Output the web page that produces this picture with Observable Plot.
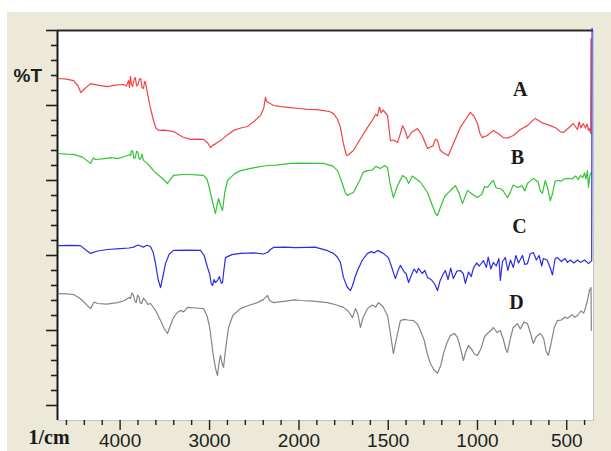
<!DOCTYPE html>
<html><head><meta charset="utf-8">
<script src="https://cdn.jsdelivr.net/npm/d3@7"></script>
<script src="https://cdn.jsdelivr.net/npm/@observablehq/plot@0.6"></script>
<style>
html,body{margin:0;padding:0;background:#fff;}
#wrap{position:relative;width:611px;height:451px;overflow:hidden;}
#bg{position:absolute;left:7px;top:12px;right:0;bottom:0;background:#ECE9D8;}
#chart{position:absolute;left:0;top:0;}
</style></head><body>
<div id="wrap"><div id="bg"></div><div id="chart"></div></div>
<script>
// Spectra: [wavenumber (1/cm), %T (arbitrary offset units)]
const spectrumA = [[4690,109],[4600,108.8],[4520,108.3],[4470,106.5],[4440,104.3],[4400,105.5],[4330,107.3],[4250,106.8],[4141,106.3],[4050,106.8],[3962,107],[3930,106.5],[3906,108.3],[3895,106],[3884,109.7],[3872,107],[3860,106.3],[3845,108.5],[3830,109.3],[3815,106.5],[3800,107],[3785,108.8],[3770,109],[3755,106],[3739,105.7],[3725,108],[3716,107.7],[3694,104],[3660,99],[3627,95],[3600,92.5],[3571,91.7],[3500,91.8],[3403,91.3],[3300,89.5],[3213,88.7],[3120,88.8],[3068,88.7],[3020,87.5],[2990,86],[2967,86.7],[2930,87.3],[2878,88.3],[2800,90.2],[2732,91.7],[2650,92.5],[2576,93],[2500,94.8],[2430,96.7],[2395,99],[2375,102.7],[2360,101.2],[2341,101],[2285,100],[2200,99.6],[2095,99.3],[2000,99],[1952,98.7],[1900,98.6],[1863,98.3],[1830,98],[1807,97.3],[1785,95.5],[1768,92.7],[1750,87],[1735,83.5],[1728,83.3],[1715,84],[1695,85],[1660,88.5],[1616,92.7],[1590,95],[1570,97],[1560,96.5],[1550,99.5],[1540,97.5],[1530,98.5],[1515,97.5],[1504,96.7],[1495,92],[1488,88.3],[1470,88.5],[1448,87.7],[1430,91],[1420,93.3],[1405,91.5],[1392,89],[1370,91],[1336,92.3],[1310,90],[1280,85.7],[1250,86.5],[1235,88.8],[1224,88.3],[1208,85],[1185,84],[1163,83.3],[1130,88],[1096,92.7],[1065,95.5],[1040,97.7],[1020,96.5],[1000,94],[985,90.5],[972,89.3],[945,90],[911,91.7],[880,90.5],[855,89.3],[830,89.2],[799,90],[760,92],[720,93.3],[695,94.8],[676,95.7],[640,94.3],[592,93.3],[560,92.5],[535,91.2],[519,91],[490,92.5],[463,94],[440,92],[430,94.5],[420,92.5],[408,94],[395,92.5],[385,93.8],[378,91.7],[372,92.3],[366,90.7],[364,122.3]];
const spectrumB = [[4690,84],[4600,83.8],[4520,83.7],[4420,82.8],[4331,80.7],[4300,82.5],[4275,82],[4200,82.2],[4100,82.6],[4029,82.3],[3950,83],[3900,83.6],[3884,83.3],[3872,85],[3860,84.7],[3845,82.4],[3830,82.7],[3815,84.8],[3800,84.3],[3785,82],[3770,82.3],[3755,83.8],[3739,81.7],[3700,80.8],[3660,79.5],[3627,78.3],[3580,77],[3520,75.5],[3470,74],[3440,75.3],[3403,76.7],[3300,77],[3213,77],[3120,76.8],[3068,76.7],[3030,75.5],[3010,73.5],[2989,70.7],[2960,67],[2934,64],[2915,67],[2900,69],[2880,67],[2855,65],[2830,71],[2799,75],[2720,77.3],[2654,78.3],[2500,79.3],[2352,80],[2250,80.1],[2095,80.7],[2000,80.8],[1900,80.7],[1863,80.7],[1840,80.3],[1810,79.8],[1784,78.3],[1760,74.5],[1740,70.8],[1728,70],[1710,70.6],[1695,71],[1660,75],[1640,77.8],[1616,78.3],[1590,78.5],[1570,79.7],[1544,79],[1520,80],[1504,79.3],[1490,74],[1471,69.3],[1450,73],[1420,76.7],[1400,75.8],[1386,74],[1365,76.5],[1347,75.7],[1320,74.5],[1280,71],[1255,67],[1235,64],[1224,63.3],[1205,66.5],[1185,69.5],[1168,70.7],[1145,72],[1124,73.3],[1105,71],[1084,67.3],[1070,69.5],[1056,71.7],[1030,70.5],[1000,69.3],[975,70.5],[960,73],[944,72.7],[925,74.2],[911,75],[895,72.5],[872,72.3],[855,71.5],[840,70],[832,69.3],[815,71.2],[800,73.5],[776,72.7],[750,73.2],[735,71.5],[720,74],[705,74.8],[687,75.7],[660,74.5],[648,71.5],[636,70.7],[628,73],[620,75],[605,72],[592,68.3],[580,70.5],[565,74.8],[552,75],[530,74.8],[515,75.5],[496,75.7],[470,75.5],[450,76.5],[435,75.3],[423,76.7],[410,76],[400,77.5],[392,75.5],[384,78.3],[378,72.7],[370,76.7],[362,77.7]];
const spectrumC = [[4690,53.3],[4550,53.4],[4443,53.3],[4390,52],[4331,50.7],[4250,51.5],[4141,52],[4000,52.3],[3900,52.5],[3850,52.8],[3800,53.5],[3740,52.8],[3700,53.4],[3660,53],[3630,51],[3604,47.3],[3575,42],[3548,39.3],[3525,42.5],[3493,47.3],[3450,50.5],[3403,51.7],[3250,51.8],[3101,51.7],[3060,50],[3023,46],[3000,44],[2980,40.5],[2967,40],[2950,42],[2935,41],[2911,41.7],[2890,43],[2870,40.8],[2855,41],[2840,45],[2822,49.3],[2750,50.3],[2654,50.7],[2500,50.9],[2400,50.5],[2352,51],[2320,52],[2285,52.7],[2150,52.8],[2050,52.6],[1952,52.7],[1910,52.8],[1880,52.3],[1840,51.6],[1807,50.7],[1785,49.5],[1768,47.7],[1751,42.7],[1730,39.5],[1712,38.3],[1700,40],[1685,43],[1672,45],[1645,48.5],[1616,50.7],[1595,51.3],[1580,50.8],[1560,51.7],[1530,50.8],[1499,49.3],[1480,46],[1460,42.3],[1445,45],[1432,46.7],[1410,44.5],[1400,44],[1386,41],[1370,43.5],[1355,45.5],[1340,44.2],[1331,45.7],[1310,44],[1295,45],[1280,42.7],[1260,42],[1240,40.5],[1224,38.3],[1210,41.5],[1195,43.5],[1180,45],[1165,42],[1150,45.8],[1135,42.3],[1115,44.8],[1096,45],[1080,44],[1068,40.7],[1050,44.5],[1035,43],[1023,45.7],[1005,47.5],[990,46.5],[967,48.3],[950,46],[940,49.5],[925,45.5],[911,47.7],[895,46.5],[880,49],[872,41.7],[860,48],[844,49.3],[830,45],[815,48.5],[799,46],[785,50],[770,47.5],[748,50],[735,47],[720,47.3],[705,50.5],[687,51],[670,48.5],[655,50],[640,46.5],[631,49],[610,48.5],[590,45.5],[580,43.5],[565,49],[552,49.3],[530,48],[510,49],[496,47.7],[480,48.5],[460,47.5],[440,48.5],[423,47.7],[400,48.5],[378,47.3],[360,48.3],[358,125.7]];
const spectrumD = [[4690,37.3],[4600,37.2],[4520,37],[4440,35.5],[4331,32.3],[4290,34.5],[4253,34],[4150,33.8],[4029,34.3],[3950,35],[3900,36],[3884,35.7],[3868,37.5],[3850,36.7],[3835,34.8],[3820,34.3],[3805,36.8],[3790,36.3],[3775,34.2],[3760,34],[3740,35.8],[3716,35],[3690,33.7],[3660,34],[3600,31.5],[3548,28.3],[3505,25.5],[3470,24],[3440,26.5],[3403,29.3],[3360,31],[3325,31.7],[3290,31.2],[3247,32.7],[3150,32.5],[3068,32.3],[3030,30],[3005,27],[2989,24],[2960,17],[2930,12],[2911,10],[2895,14],[2878,16.7],[2860,14],[2844,12.7],[2820,19],[2788,26],[2740,30],[2654,32.3],[2550,33.5],[2464,34.3],[2400,35.3],[2352,36.7],[2330,35],[2285,34.3],[2150,34.8],[2050,35.2],[1992,35],[1920,34.8],[1840,34.3],[1790,33.5],[1751,32.7],[1725,31.5],[1700,29.3],[1684,32.3],[1670,30.5],[1656,26],[1640,29.5],[1616,32.3],[1590,33.5],[1570,32.8],[1555,34.3],[1530,33],[1504,30],[1488,24],[1471,17.3],[1455,22],[1432,28.3],[1410,28.7],[1390,28.5],[1358,28.3],[1335,27],[1320,25],[1300,22],[1280,17],[1264,14],[1245,12],[1224,10.7],[1205,13.5],[1191,17.3],[1170,21],[1152,23.3],[1130,24],[1112,22.7],[1095,19],[1079,15],[1065,18],[1051,20],[1030,18.5],[1015,17],[1000,16.7],[980,19],[960,23],[944,24],[925,25],[911,26],[890,24.3],[872,25],[855,22],[840,18.5],[832,17.7],[815,22.5],[800,26],[776,27.3],[760,25.5],[740,27.8],[720,27.3],[705,24.5],[687,20.7],[670,23],[648,24],[630,22.5],[615,18],[603,16.7],[590,20],[570,26],[552,28.3],[530,28.5],[510,29.5],[496,29],[470,30.3],[455,29.4],[440,30],[420,31.5],[405,30.8],[395,32.5],[384,35],[373,38.3],[364,39.3],[362,25]];

const seriesNames = ["A","B","C","D"];
const seriesColors = ["#f04444","#33c433","#2b2be8","#858585"];
const labelWn = [760,776,765,782];
const labelT = [105.3,82.7,59.7,34.3];

const xMajor = [4000,3000,2000,1500,1000,500];
const xMinor = [4600,4400,4200,3800,3600,3400,3200,2800,2600,2400,2200,1900,1800,1700,1600,1400,1300,1200,1100,900,800,700,600,400];
const yMajor = [0,25,50,75,100,125];
const yMinor = [5,10,15,20,30,35,40,45,55,60,65,70,80,85,90,95,105,110,115,120];

const spectra = [spectrumA, spectrumB, spectrumC, spectrumD];
const data = spectra.flatMap((s, i) => s.map(([wn, t]) => ({series: seriesNames[i], wn, t})));
const labels = seriesNames.map((name, i) => ({name, wn: labelWn[i], t: labelT[i]}));

const chart = Plot.plot({
  width: 611, height: 451,
  marginLeft: 57, marginRight: 18, marginTop: 30, marginBottom: 31,
  style: {background: "transparent", fontFamily: "'Liberation Sans', Arial, sans-serif", fontSize: "19px", color: "#1e1e1e"},
  x: {type: "linear", domain: [4700, 2000, 350], range: [57, 298.5, 593]},
  y: {domain: [-5, 125]},
  color: {domain: seriesNames, range: seriesColors},
  marks: [
    Plot.frame({fill: "white", stroke: "#c4c4c4"}),
    Plot.ruleY([125], {stroke: "#2a2a2a", strokeWidth: 2}),
    Plot.ruleX([4700], {stroke: "#1a1a1a", strokeWidth: 2}),
    Plot.axisY(yMinor, {tickSize: 6, tickFormat: () => "", label: null, strokeWidth: 1.6}),
    Plot.axisY(yMajor, {tickSize: 11, tickFormat: () => "", label: null, strokeWidth: 1.6}),
    Plot.axisX(xMinor, {tickSize: 5, tickFormat: () => "", label: null, strokeWidth: 1.4}),
    Plot.axisX(xMajor, {tickSize: 10, tickPadding: 3, tickFormat: d => String(d), label: null, strokeWidth: 1.4, fontSize: 19}),
    Plot.line(data, {x: "wn", y: "t", z: "series", stroke: "series", strokeWidth: 1.2}),
    Plot.text(labels, {x: "wn", y: "t", text: "name", fontFamily: "'Liberation Serif', 'Times New Roman', serif", fontWeight: "bold", fontSize: 20, fill: "#1a1a1a"}),
    Plot.text(["%T"], {frameAnchor: "top-left", text: d => d, dx: -44, dy: 38, textAnchor: "start", fontWeight: "bold", fontSize: 19, fill: "#1e1e1e"}),
    Plot.text(["1/cm"], {frameAnchor: "bottom-left", text: d => d, dx: -29, dy: 23, textAnchor: "start", fontFamily: "'Liberation Serif', 'Times New Roman', serif", fontWeight: "bold", fontSize: 20, fill: "#1a1a1a"})
  ]
});
document.getElementById("chart").appendChild(chart);
</script>
</body></html>
